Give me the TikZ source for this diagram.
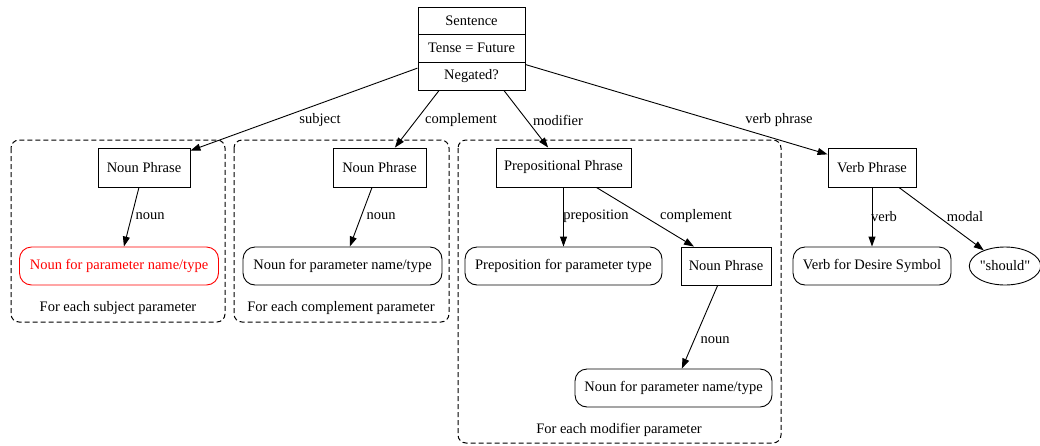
\documentclass[tikz,border=0pt]{standalone}
\usepackage{fontspec}
\setmainfont{Liberation Serif}[Ligatures=TeXOff]
\usetikzlibrary{arrows.meta,shapes.geometric,fit}
\tikzset{
  every node/.style={font=\fontsize{14.5}{16}\selectfont, inner sep=0pt},
  box/.style={draw, line width=0.9pt, rectangle},
  rbox/.style={draw, line width=0.9pt, rectangle, rounded corners=12pt},
  oval/.style={draw, line width=0.9pt, ellipse},
  edge/.style={draw, line width=0.9pt, -{Triangle[length=10pt,width=7pt]}},
  cluster/.style={draw, line width=1pt, dash pattern=on 5pt off 3pt, rounded corners=8pt},
  lbl/.style={yshift=-1.5pt},
}
\begin{document}
\begin{tikzpicture}[x=1pt, y=-1pt]
\useasboundingbox (0,0) rectangle (1040,445);

% subgraph frames
\draw[cluster] (11,140) rectangle (225,322);
\draw[cluster] (234,140) rectangle (449,322);
\draw[cluster] (458,140) rectangle (781,443);
\node[lbl] (c1) at (118,307) {For each subject parameter};
\node[lbl] (c2) at (341,307) {For each complement parameter};
\node[lbl] (c3) at (619,428) {For each modifier parameter};

% sentence record
\node[box, minimum width=107pt, minimum height=27pt] (s1) at (471.5,20.5) {Sentence};
\node[box, minimum width=107pt, minimum height=28pt] (s2) at (471.5,48) {Tense = Future};
\node[box, minimum width=107pt, minimum height=28pt] (s3) at (471.5,76) {Negated?};
\node[fit=(s1)(s3), inner sep=0pt] (S) {};

% phrases
\node[box, minimum width=92pt, minimum height=39pt] (np1) at (144,167.5) {Noun Phrase};
\node[rbox, red, minimum width=199pt, minimum height=38pt] (n1) at (119,266) {Noun for parameter name/type};
\node[box, minimum width=93pt, minimum height=39pt] (np2) at (379.5,167.5) {Noun Phrase};
\node[rbox, minimum width=199pt, minimum height=38pt] (n2) at (342.5,266) {Noun for parameter name/type};
\node[box, minimum width=135pt, minimum height=39pt] (pp) at (563.5,167.5) {Prepositional Phrase};
\node[rbox, minimum width=197pt, minimum height=38pt] (prep) at (563.5,266) {Preposition for parameter type};
\node[box, minimum width=90pt, minimum height=38pt] (np3) at (726,266) {Noun Phrase};
\node[rbox, minimum width=197pt, minimum height=38pt] (n3) at (673.5,388) {Noun for parameter name/type};
\node[box, minimum width=88pt, minimum height=39pt] (vp) at (872,167.5) {Verb Phrase};
\node[rbox, minimum width=158pt, minimum height=38pt] (verb) at (872,266) {Verb for Desire Symbol};
\node[oval, minimum width=70pt, minimum height=38pt] (should) at (1005,266) {"should"};

% connectors
\draw[edge] (S) -- (np1);
\draw[edge] (S) -- (np2);
\draw[edge] (S) -- (pp);
\draw[edge] (S) -- (vp);
\draw[edge] (np1) -- (n1);
\draw[edge] (np2) -- (n2);
\draw[edge] (pp) -- (prep);
\draw[edge] (pp) -- (np3);
\draw[edge] (np3) -- (n3);
\draw[edge] (vp) -- (verb);
\draw[edge] (vp) -- (should);

% connector labels
\node[lbl] (l1) at (320,119) {subject};
\node[lbl] (l2) at (461,119) {complement};
\node[lbl] (l3) at (558,119) {modifier};
\node[lbl] (l4) at (779,119) {verb phrase};
\node[lbl] (l5) at (150,215) {noun};
\node[lbl] (l6) at (381,215) {noun};
\node[lbl] (l7) at (596,215) {preposition};
\node[lbl] (l8) at (696,215) {complement};
\node[lbl] (l9) at (715,339) {noun};
\node[lbl] (l10) at (884,215) {verb};
\node[lbl] (l11) at (965,215) {modal};
\end{tikzpicture}
\end{document}
